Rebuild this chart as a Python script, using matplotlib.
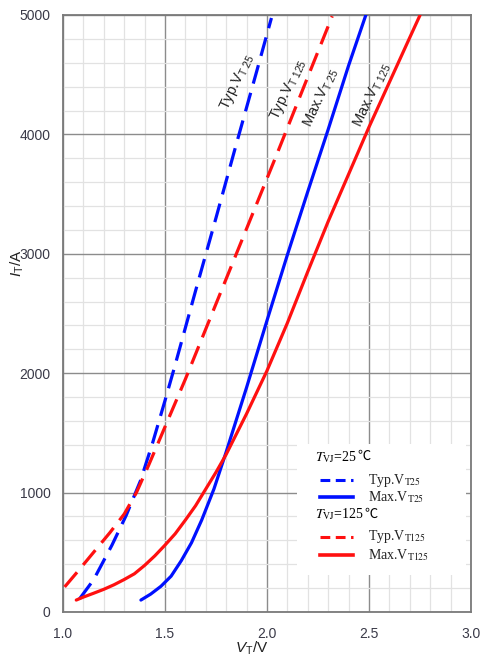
import matplotlib
matplotlib.use("Agg")
import matplotlib.pyplot as plt
from matplotlib.patches import Rectangle
from matplotlib.ticker import MultipleLocator

plt.rcParams['font.family'] = ['Liberation Sans', 'DejaVu Sans']
plt.rcParams['mathtext.fontset'] = 'custom'
plt.rcParams['mathtext.rm'] = 'Liberation Sans'
plt.rcParams['mathtext.it'] = 'Liberation Sans:italic'

# on-state characteristics, V_T in volts, I_T in amperes
typ25_v = [1.081, 1.15, 1.24, 1.31, 1.38, 1.44, 1.50, 1.545, 1.65, 1.75, 1.85, 1.95, 2.022]
typ25_i = [110, 270, 560, 810, 1100, 1420, 1770, 2040, 2690, 3300, 3920, 4530, 4975]

typ125_v = [1.008, 1.07, 1.15, 1.23, 1.30, 1.36, 1.42, 1.50, 1.60, 1.75, 1.90, 2.05, 2.20, 2.32]
typ125_i = [210, 335, 500, 665, 820, 1000, 1230, 1550, 1950, 2580, 3210, 3840, 4480, 4990]

max25_v = [1.382, 1.43, 1.48, 1.53, 1.58, 1.63, 1.68, 1.74, 1.80, 1.90, 2.00, 2.10, 2.20, 2.30, 2.40, 2.485]
max25_i = [100, 150, 215, 300, 430, 580, 770, 1030, 1340, 1880, 2440, 2990, 3520, 4040, 4575, 5000]

max125_v = [1.065, 1.10, 1.15, 1.20, 1.25, 1.30, 1.35, 1.40, 1.45, 1.50, 1.55, 1.60, 1.65, 1.70,
            1.75, 1.80, 1.90, 2.00, 2.10, 2.20, 2.30, 2.40, 2.50, 2.60, 2.70, 2.751]
max125_i = [100, 125, 157, 190, 228, 272, 320, 390, 470, 560, 655, 770, 890, 1030,
            1170, 1320, 1660, 2020, 2420, 2850, 3270, 3665, 4060, 4435, 4810, 5000]

curve_labels = [r'Typ.V$_{\mathrm{T\ 25}}$', r'Typ.V$_{\mathrm{T\ 125}}$',
                r'Max.V$_{\mathrm{T\ 25}}$', r'Max.V$_{\mathrm{T\ 125}}$']
label_pos = [(1.853, 4440), (2.105, 4380), (2.267, 4310), (2.515, 4330)]

legend_titles = [(r'$T_{\mathrm{VJ}}$=25', '℃'), (r'$T_{\mathrm{VJ}}$=125', '℃')]
legend_names = [r'Typ.V$_{\mathrm{T25}}$', r'Max.V$_{\mathrm{T25}}$',
                r'Typ.V$_{\mathrm{T125}}$', r'Max.V$_{\mathrm{T125}}$']

BLUE = '#0010ff'
RED = '#ff1010'

fig = plt.figure(figsize=(4.81, 6.57), dpi=100)
ax = fig.add_axes([0.131, 0.0685, 0.848, 0.9087])

lw = 2.3
ax.plot(typ25_v, typ25_i, color=BLUE, lw=lw, dashes=(6, 3), zorder=4)
ax.plot(typ125_v, typ125_i, color=RED, lw=lw, dashes=(6, 3), zorder=4)
ax.plot(max25_v, max25_i, color=BLUE, lw=lw, solid_capstyle='round', zorder=4)
ax.plot(max125_v, max125_i, color=RED, lw=lw, solid_capstyle='round', zorder=4)

for txt, (x, y) in zip(curve_labels, label_pos):
    ax.text(x, y, txt, rotation=65, rotation_mode='anchor', ha='center', va='center',
            fontsize=10.5, color='#222222', zorder=5)

ax.set_xlim(1.0, 3.0)
ax.set_ylim(0, 5000)
ax.xaxis.set_major_locator(MultipleLocator(0.5))
ax.xaxis.set_minor_locator(MultipleLocator(0.1))
ax.yaxis.set_major_locator(MultipleLocator(1000))
ax.yaxis.set_minor_locator(MultipleLocator(200))
ax.xaxis.set_major_formatter(plt.FormatStrFormatter('%.1f'))

ax.grid(which='major', color='#8c8c8c', lw=1.0, zorder=1)
ax.grid(which='minor', color='#e2e2e2', lw=0.9, zorder=0)
ax.set_axisbelow(True)
ax.tick_params(which='both', length=0)
ax.tick_params(axis='x', pad=11, labelsize=10, labelcolor='#3a3a48')
ax.tick_params(axis='y', pad=9, labelsize=10, labelcolor='#3a3a48')
for s in ax.spines.values():
    s.set_color('#7a7a7a')
    s.set_linewidth(1.3)

ax.set_xlabel(r'$V_\mathrm{T}$/V', fontsize=11, color='#222222')
ax.xaxis.set_label_coords(0.463, -0.047)
ax.set_ylabel(r'$I_\mathrm{T}$/A', fontsize=11, color='#222222')
ax.yaxis.set_label_coords(-0.09, 0.585)

# legend drawn by hand: white box without frame
ax.add_patch(Rectangle((0.574, 0.062), 0.414, 0.22, transform=ax.transAxes,
                       facecolor='white', edgecolor='none', zorder=3))
serif = ['Liberation Serif', 'Noto Sans CJK SC']
for (head, unit), yy in zip(legend_titles, [0.253, 0.157]):
    t = ax.text(0.618, yy, head, transform=ax.transAxes, fontsize=10,
                family=serif, math_fontfamily='stix', va='baseline', zorder=5)
    ax.annotate(unit, xy=(1, 0), xycoords=t, xytext=(0, 1), textcoords='offset points',
                fontsize=9.5, family='Noto Sans CJK SC', va='bottom', ha='left', zorder=5)
rows = [(0.221, BLUE, True), (0.193, BLUE, False), (0.126, RED, True), (0.095, RED, False)]
for name, (yy, c, dashed) in zip(legend_names, rows):
    if dashed:
        ax.plot([0.630, 0.711], [yy, yy], transform=ax.transAxes, color=c, lw=2.2,
                dashes=(3.2, 1.8), zorder=5)
    else:
        ax.plot([0.630, 0.711], [yy, yy], transform=ax.transAxes, color=c, lw=2.6, zorder=5)
    ax.text(0.748, yy, name, transform=ax.transAxes, fontsize=10, family=serif,
            math_fontfamily='stix', va='center', color='#222222', zorder=5)

fig.savefig('out.png', dpi=100)
